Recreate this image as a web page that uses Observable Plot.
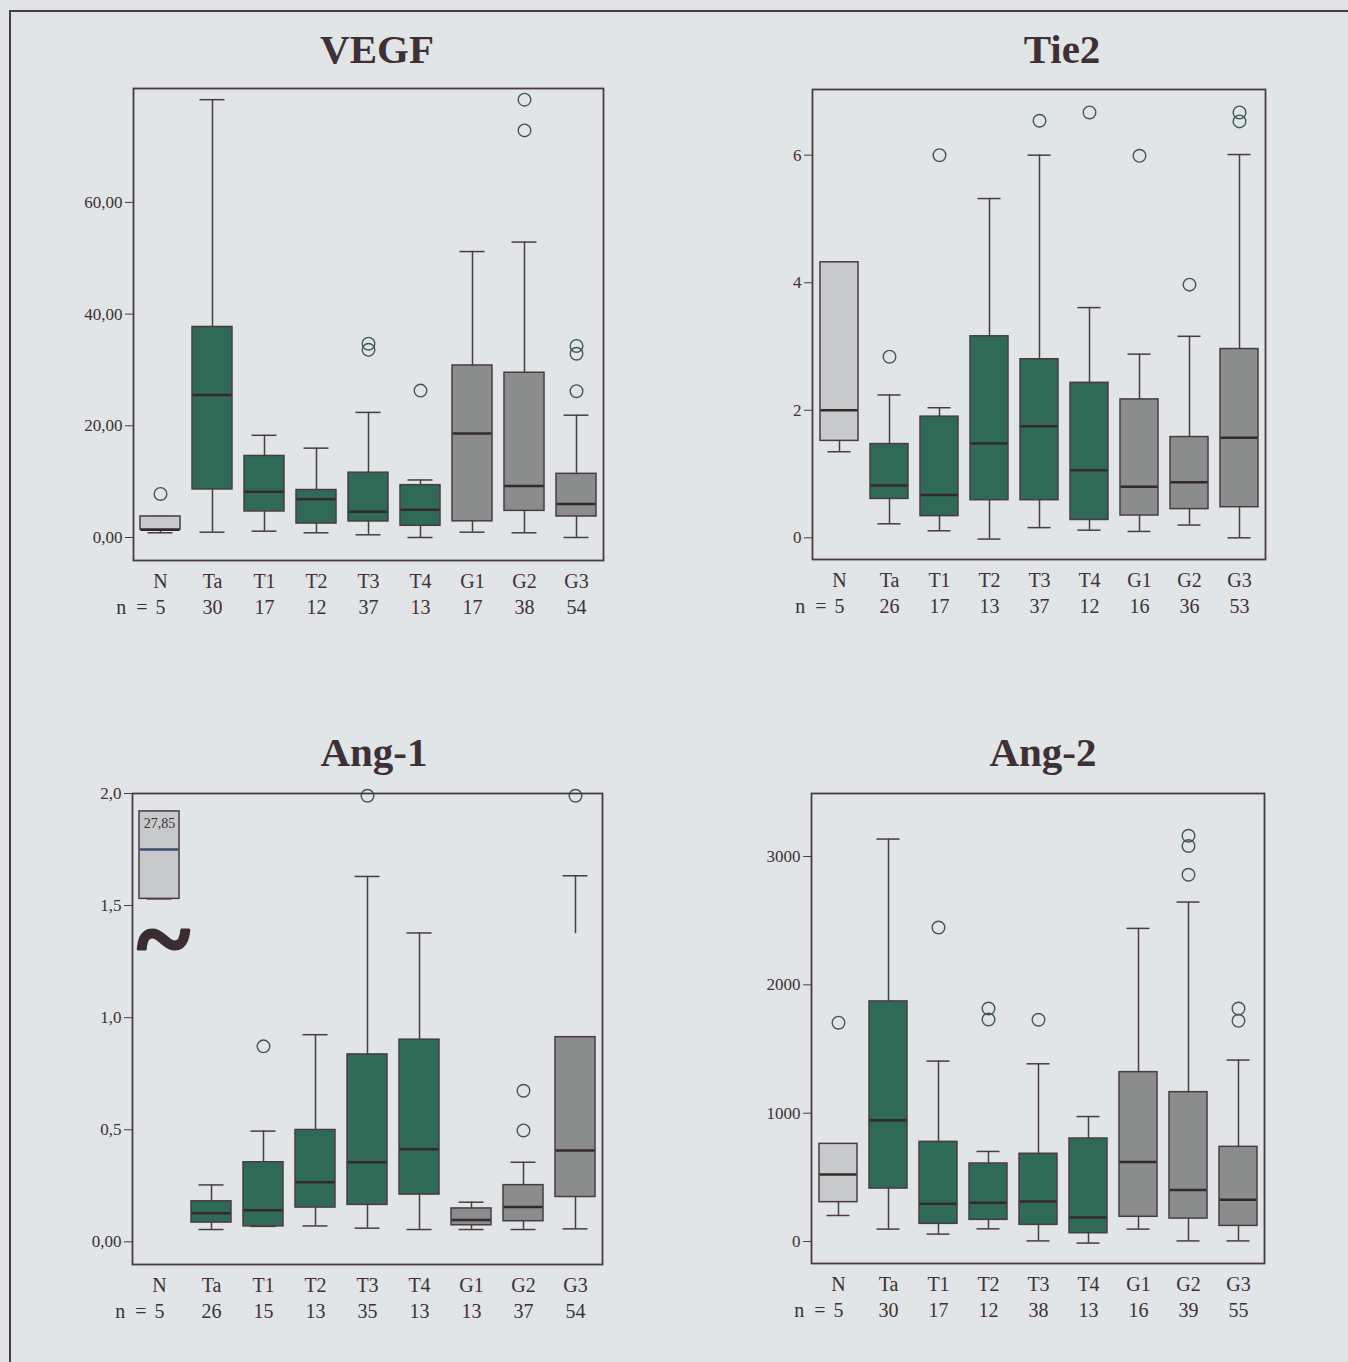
<!DOCTYPE html>
<html><head><meta charset="utf-8">
<script src="https://cdn.jsdelivr.net/npm/d3@7"></script>
<script src="https://cdn.jsdelivr.net/npm/@observablehq/plot@0.6"></script>
<style>
body{margin:0;background:#e1e5e7;width:1348px;height:1362px;position:relative;overflow:hidden;font-family:"Liberation Serif","DejaVu Serif",serif;}
.border{position:absolute;left:9px;top:10px;width:1400px;height:1400px;border-top:2px solid #4a3b42;border-left:2px solid #4a3b42;}
.title{position:absolute;width:300px;text-align:center;font-weight:bold;font-size:41px;line-height:40px;color:#3e3034;}
.panel{position:absolute;}
</style></head><body>
<div class="border"></div>
<div id="root"></div>
<script>
// ---- data ----
const categories = ["N","Ta","T1","T2","T3","T4","G1","G2","G3"];

// VEGF
const vegfN   = [5,30,17,12,37,13,17,38,54];
const vegfLo  = [0.84,0.95,1.13,0.84,0.48,0.0,0.95,0.84,0.0];
const vegfQ1  = [1.4,8.6,4.66,2.5,2.87,2.09,2.9,4.77,3.76];
const vegfMed = [1.4,25.5,8.2,6.86,4.6,4.96,18.6,9.2,6.0];
const vegfQ3  = [3.76,37.7,14.6,8.5,11.6,9.37,30.8,29.5,11.4];
const vegfHi  = [3.76,78.4,18.3,16.0,22.4,10.3,51.2,52.9,21.9];
const vegfOutCat = ["N","T3","T3","T4","G2","G2","G3","G3","G3"];
const vegfOutVal = [7.8,34.7,33.6,26.3,78.4,72.9,34.3,32.9,26.2];
const vegfTicks = [0,20,40,60];
const vegfTickLabels = ["0,00","20,00","40,00","60,00"];

// Tie2
const tie2N   = [5,26,17,13,37,12,16,36,53];
const tie2Lo  = [1.35,0.22,0.11,-0.02,0.16,0.12,0.10,0.20,0.0];
const tie2Q1  = [1.52,0.61,0.34,0.59,0.59,0.28,0.35,0.45,0.48];
const tie2Med = [2.0,0.82,0.67,1.48,1.75,1.06,0.80,0.87,1.57];
const tie2Q3  = [4.32,1.47,1.90,3.16,2.80,2.43,2.17,1.58,2.96];
const tie2Hi  = [4.32,2.24,2.04,5.32,6.0,3.61,2.88,3.16,6.01];
const tie2OutCat = ["Ta","T1","T3","T4","G1","G2","G3","G3"];
const tie2OutVal = [2.84,6.0,6.54,6.67,5.99,3.97,6.67,6.53];
const tie2Ticks = [0,2,4,6];
const tie2TickLabels = ["0","2","4","6"];

// Ang-1
const ang1N   = [5,26,15,13,35,13,13,37,54];
const ang1Lo  = [1.53,0.055,0.069,0.071,0.061,0.055,0.055,0.055,0.058];
const ang1Q1  = [1.53,0.086,0.069,0.153,0.165,0.211,0.074,0.092,0.200];
const ang1Med = [1.75,0.128,0.141,0.266,0.355,0.413,0.098,0.155,0.408];
const ang1Q3  = [1.92,0.181,0.355,0.499,0.836,0.902,0.149,0.253,0.913];
const ang1Hi  = [1.92,0.254,0.494,0.924,1.63,1.378,0.177,0.355,1.633];
const ang1WhiskerFrom = [null,null,null,null,null,null,null,null,1.375];
const ang1OutCat = ["T1","T3","G2","G2","G3"];
const ang1OutVal = [0.872,1.99,0.674,0.497,1.99];
const ang1Ticks = [0,0.5,1.0,1.5,2.0];
const ang1TickLabels = ["0,00","0,5","1,0","1,5","2,0"];
const ang1BreakCat = "N";
const ang1BreakLabel = "27,85";
const ang1BreakLabelVal = 1.864;
const ang1TildeVal = 1.375;

// Ang-2
const ang2N   = [5,30,17,12,38,13,16,39,55];
const ang2Lo  = [203,97,58,99,5,-12,97,5,5];
const ang2Q1  = [307,413,138,169,130,65,193,179,122];
const ang2Med = [522,946,294,302,312,187,619,401,325];
const ang2Q3  = [761,1871,777,608,684,803,1320,1164,738];
const ang2Hi  = [761,3136,1406,702,1385,974,2440,2645,1414];
const ang2OutCat = ["N","T1","T2","T2","T3","G2","G2","G2","G3","G3"];
const ang2OutVal = [1705,2447,1816,1730,1728,3162,3082,2858,1816,1720];
const ang2Ticks = [0,1000,2000,3000];
const ang2TickLabels = ["0","1000","2000","3000"];

// ---- styling ----
const INK = "#4a3b42";
const TEXT = "#3e3034";
const fillFor = c => c === "N" ? "#c7c9ca" : (c[0] === "T" ? "#2f6a57" : "#8b8d8d");

const mL = 80, mR = 10, mT = 10, mB = 70;

function panel(cfg) {
  const rows = categories.map((c, i) => ({
    cat: c, n: cfg.n[i], lo: cfg.lo[i], q1: cfg.q1[i], med: cfg.med[i], q3: cfg.q3[i], hi: cfg.hi[i],
    upFrom: (cfg.whiskerFrom && cfg.whiskerFrom[i] != null) ? cfg.whiskerFrom[i] : cfg.q3[i]
  }));
  const outs = cfg.outCat.map((c, i) => ({cat: c, v: cfg.outVal[i]}));
  const W = cfg.R - cfg.L, H = cfg.B - cfg.T;
  const marks = [
    Plot.ruleX(rows, {x: "cat", y1: "upFrom", y2: "hi", stroke: INK, strokeWidth: 1.5}),
    Plot.ruleX(rows, {x: "cat", y1: "lo", y2: "q1", stroke: INK, strokeWidth: 1.5}),
    Plot.tickY(rows, {x: "cat", y: "hi", stroke: INK, strokeWidth: 1.5, insetLeft: 13.5, insetRight: 13.5}),
    Plot.tickY(rows, {x: "cat", y: "lo", stroke: INK, strokeWidth: 1.5, insetLeft: 13.5, insetRight: 13.5}),
    Plot.barY(rows, {x: "cat", y1: "q1", y2: "q3", fill: d => fillFor(d.cat), stroke: INK, strokeWidth: 1.5, insetLeft: 6, insetRight: 6}),
    Plot.tickY(rows, {x: "cat", y: "med", stroke: d => (cfg.blueMedianN && d.cat === "N") ? "#3d4d70" : "#33282c", strokeWidth: 2.5, insetLeft: 6.5, insetRight: 6.5}),
    Plot.dot(outs, {x: "cat", y: "v", r: 6.3, stroke: "#3f5850", strokeWidth: 1.4, fill: "none"}),
    Plot.frame({stroke: INK, strokeWidth: 1.8}),
    Plot.axisY({ticks: cfg.ticks, tickFormat: d => cfg.tickLabels[cfg.ticks.indexOf(d)], tickSize: 8, tickPadding: 3, fontSize: 17, stroke: INK, label: null, fill: TEXT}),
    Plot.text(categories, {x: d => d, frameAnchor: "bottom", dy: 21, fontSize: 20, fill: TEXT, lineAnchor: "middle"}),
    Plot.text(rows, {x: "cat", text: d => String(d.n), frameAnchor: "bottom", dy: 47, fontSize: 20, fill: TEXT, lineAnchor: "middle"}),
    Plot.text(["n\u2002="], {x: () => categories[0], text: d => d, frameAnchor: "bottom", dy: 47, dx: -13, textAnchor: "end", fontSize: 20, fill: TEXT, lineAnchor: "middle"})
  ];
  if (cfg.extra) marks.push(...cfg.extra);
  const chart = Plot.plot({
    width: W + mL + mR, height: H + mT + mB,
    marginLeft: mL, marginRight: mR, marginTop: mT, marginBottom: mB,
    style: {background: "transparent", fontFamily: "'Liberation Serif', 'DejaVu Serif', serif", fontSize: "17px", color: TEXT, overflow: "visible"},
    x: {type: "band", domain: categories, padding: 0, axis: null},
    y: {domain: cfg.yDomain, axis: null},
    marks
  });
  const div = document.createElement("div");
  div.className = "panel";
  div.style.left = (cfg.L - mL) + "px";
  div.style.top = (cfg.T - mT) + "px";
  div.appendChild(chart);
  document.body.appendChild(div);

  const t = document.createElement("div");
  t.className = "title";
  t.textContent = cfg.title;
  t.style.left = (cfg.titleCx - 150) + "px";
  t.style.top = (cfg.titleBase - 33) + "px";
  document.body.appendChild(t);
}

panel({title: "VEGF", titleCx: 377, titleBase: 62, L: 133, T: 88, R: 603, B: 560,
  yDomain: [-4.12, 80.4], ticks: vegfTicks, tickLabels: vegfTickLabels,
  n: vegfN, lo: vegfLo, q1: vegfQ1, med: vegfMed, q3: vegfQ3, hi: vegfHi, outCat: vegfOutCat, outVal: vegfOutVal});

panel({title: "Tie2", titleCx: 1062, titleBase: 62, L: 812, T: 89, R: 1265, B: 559,
  yDomain: [-0.34, 7.03], ticks: tie2Ticks, tickLabels: tie2TickLabels,
  n: tie2N, lo: tie2Lo, q1: tie2Q1, med: tie2Med, q3: tie2Q3, hi: tie2Hi, outCat: tie2OutCat, outVal: tie2OutVal});

panel({title: "Ang-1", titleCx: 374, titleBase: 765, L: 132, T: 793, R: 602, B: 1264,
  yDomain: [-0.101, 2.0], ticks: ang1Ticks, tickLabels: ang1TickLabels, blueMedianN: true,
  n: ang1N, lo: ang1Lo, q1: ang1Q1, med: ang1Med, q3: ang1Q3, hi: ang1Hi, whiskerFrom: ang1WhiskerFrom,
  outCat: ang1OutCat, outVal: ang1OutVal,
  extra: [
    Plot.text([ang1BreakLabel], {x: () => ang1BreakCat, y: () => ang1BreakLabelVal, text: d => d, fontSize: 14, fill: TEXT}),
    Plot.text(["~"], {x: () => ang1BreakCat, y: () => ang1TildeVal, text: d => d, fontSize: 100, fontWeight: "bold", fill: "#3a2d31", stroke: "#3a2d31", strokeWidth: 3, dx: 4, dy: 6})
  ]});

panel({title: "Ang-2", titleCx: 1043, titleBase: 765, L: 811, T: 793, R: 1264, B: 1263,
  yDomain: [-171, 3491], ticks: ang2Ticks, tickLabels: ang2TickLabels,
  n: ang2N, lo: ang2Lo, q1: ang2Q1, med: ang2Med, q3: ang2Q3, hi: ang2Hi, outCat: ang2OutCat, outVal: ang2OutVal});
</script>
</body></html>
